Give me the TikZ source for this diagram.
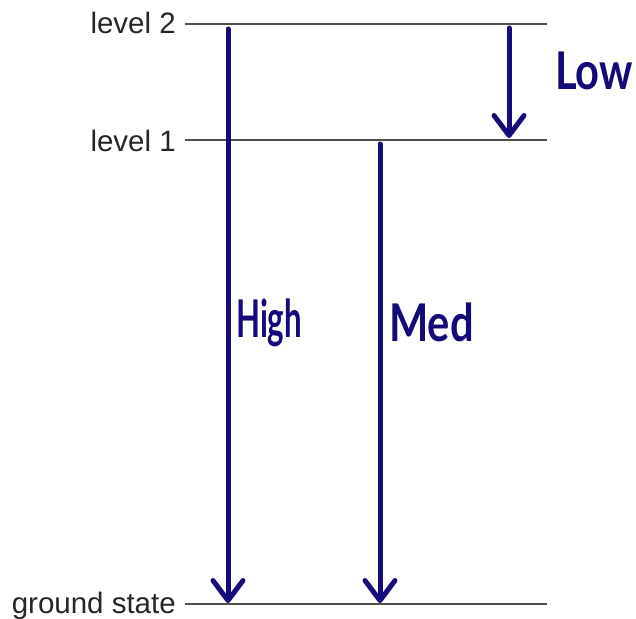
\documentclass[tikz,border=0pt]{standalone}
\usepackage{fontspec}
\setmainfont{Liberation Sans}
\newfontfamily\handfont[FakeStretch=0.6]{Lato}
\newfontfamily\handwidefont[FakeStretch=0.8]{Lato}
\usetikzlibrary{arrows.meta}
\definecolor{inkblue}{RGB}{20,10,120}
\definecolor{levelgray}{RGB}{80,80,80}
\tikzset{
  levelline/.style={draw=levelgray, line width=2.4pt},
  levellabel/.style={anchor=base east, font=\fontsize{29.5}{32}\selectfont, text=black!85, inner sep=0pt},
  transition/.style={draw=inkblue, line width=5pt, line cap=round,
    -{Straight Barb[length=20pt, width=30pt, line cap=round, line join=round]}},
  handlabel/.style={anchor=base west, inner sep=0pt, text=inkblue, font=\handfont\bfseries\fontsize{52}{56}\selectfont},
  handwide/.style={handlabel, font=\handwidefont\bfseries\fontsize{52}{56}\selectfont}
}
\begin{document}
\begin{tikzpicture}[x=1pt, y=-1pt]
\useasboundingbox (0,0) rectangle (636,618);
\clip (0,0) rectangle (636,618);
% level lines
\coordinate (l2a) at (185,24);  \coordinate (l2b) at (547,24);
\coordinate (l1a) at (185,140); \coordinate (l1b) at (547,140);
\coordinate (g0a) at (185,604); \coordinate (g0b) at (547,604);
\draw[levelline] (l2a) -- (l2b);
\draw[levelline] (l1a) -- (l1b);
\draw[levelline] (g0a) -- (g0b);
\node[levellabel] (t2) at (176,34) {level 2};
\node[levellabel] (t1) at (176,151) {level 1};
\node[levellabel] (tg) at (176,613) {ground state};
% transitions
\coordinate (hs) at (228,29);  \coordinate (he) at (228,603);
\coordinate (ms) at (380,144); \coordinate (me) at (380,603);
\coordinate (ls) at (509,28);  \coordinate (le) at (509,138);
\draw[transition] (hs) -- (he);
\draw[transition] (ms) -- (me);
\draw[transition] (ls) -- (le);
\node[handlabel] (high) at (236,337) {High};
\node[handwide] (med) at (389,341) {Med};
\node[handwide] (low) at (555,89) {Low};
\end{tikzpicture}
\end{document}
